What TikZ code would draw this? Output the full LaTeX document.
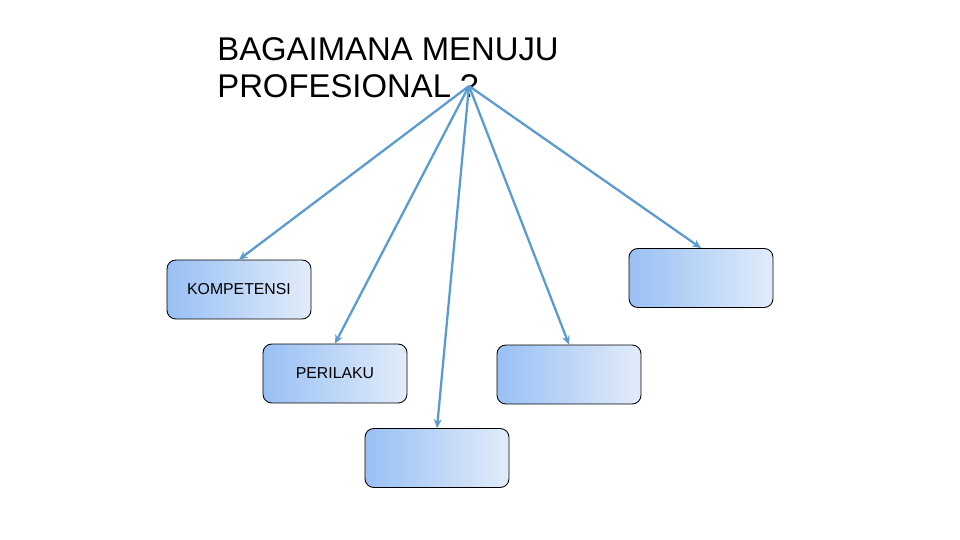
\documentclass[tikz,border=0pt]{standalone}
\usepackage{fontspec}
\setmainfont{Liberation Sans}
\usetikzlibrary{arrows.meta}
\definecolor{birukiri}{RGB}{152,192,244}
\definecolor{birukanan}{RGB}{226,236,250}
\definecolor{biruarah}{RGB}{91,155,210}
\begin{document}
\begin{tikzpicture}[x=0.02cm,y=-0.02cm,>={Stealth[length=5pt,width=4.5pt]},
  kotak/.style={draw=black,line width=0.5pt,rounded corners=5pt,minimum width=2.88cm,minimum height=1.18cm,
    left color=birukiri,right color=birukanan,font=\fontsize{9}{10}\selectfont},
  panah/.style={->,line width=1.3pt,draw=biruarah}]
\useasboundingbox (0,0) rectangle (960,540);
\node[anchor=north west,align=left,inner sep=0pt,font=\fontsize{18.7}{21}\selectfont] (judul) at (217,37) {BAGAIMANA MENUJU\\PROFESIONAL ?};
\coordinate (pusat) at (469,86);

\node[kotak] (kompetensi) at (239,289.5) {KOMPETENSI};
\node[kotak] (kanan) at (701,278) {};
\node[kotak] (perilaku) at (335,373.5) {PERILAKU};
\node[kotak] (tengah) at (569,374.5) {};
\node[kotak] (bawah) at (437,458) {};

\draw[panah] (pusat) -- (kompetensi.north);
\draw[panah] (pusat) -- (perilaku.north);
\draw[panah] (pusat) -- (bawah.north);
\draw[panah] (pusat) -- (tengah.north);
\draw[panah] (pusat) -- (kanan.north);
\end{tikzpicture}
\end{document}
